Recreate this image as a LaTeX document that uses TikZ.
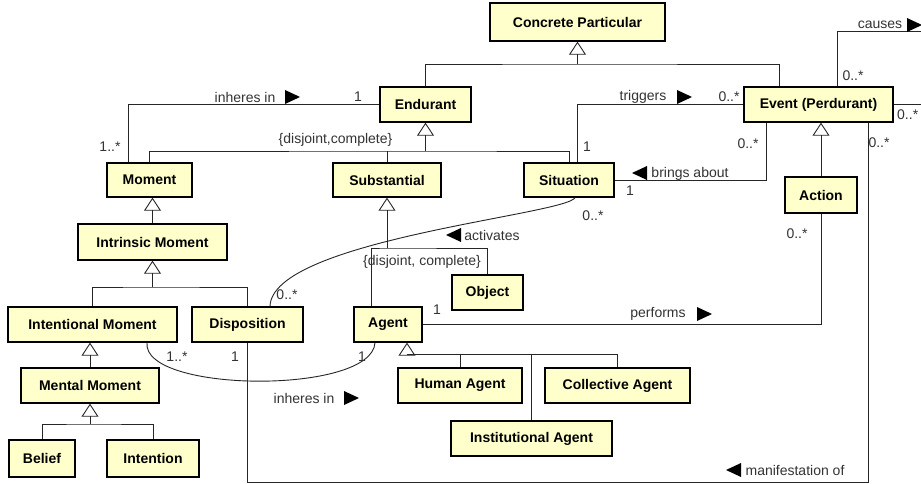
\documentclass[tikz,border=0pt]{standalone}
\usepackage{fontspec}
\setmainfont{Liberation Sans}
\usetikzlibrary{arrows.meta,calc}
\definecolor{boxfill}{RGB}{255,255,204}
\newcommand{\rtri}[3]{\fill[black] (#2,#3-7) -- (#2,#3+7) -- (#2+15,#3) -- cycle coordinate (#1) at (#2,#3);}
\newcommand{\ltri}[3]{\fill[black] (#2+15,#3-7) -- (#2+15,#3+7) -- (#2,#3) -- cycle coordinate (#1) at (#2,#3);}
\tikzset{
  box/.style={draw=black, line width=1.4pt, fill=boxfill, inner sep=0pt,
    font=\bfseries\fontsize{14}{16}\selectfont, text=black},
  lbl/.style={inner sep=0pt, font=\fontsize{14}{16}\selectfont, text=black!80},
  line/.style={draw=black!85, line width=0.9pt},
  gen/.style={line, -{Triangle[open, width=17pt, length=13pt]}}
}
\begin{document}
\begin{tikzpicture}[x=1pt,y=-1pt]
\useasboundingbox[fill=white] (0,0) rectangle (921,484);

% ---------- connectors first (boxes drawn over them) ----------
\coordinate (g1) at (577.5,64);
\coordinate (g2) at (425.5,151);
\coordinate (g4) at (152.5,287);
\coordinate (g6) at (90,424);
\coordinate (g7) at (387,248);
\coordinate (g8) at (407,354);
\coordinate (causesEnd) at (921,31);
\coordinate (rightEnd) at (921,104.5);
\coordinate (mc) at (868,482);

% ---------- boxes ----------
\node[box, minimum width=175pt, minimum height=38pt] (cp) at (577.5,22) {Concrete Particular};
\node[box, minimum width=91pt, minimum height=35pt] (end) at (425.5,104.5) {Endurant};
\node[box, minimum width=149pt, minimum height=35pt] (ev) at (818.5,104.5) {Event (Perdurant)};
\node[box, minimum width=85pt, minimum height=34pt] (mom) at (149.5,180) {Moment};
\node[box, minimum width=108pt, minimum height=34pt] (sub) at (387,180) {Substantial};
\node[box, minimum width=90pt, minimum height=34pt] (sit) at (569,180) {Situation};
\node[box, minimum width=72pt, minimum height=36pt] (act) at (821,195) {Action};
\node[box, minimum width=149pt, minimum height=36pt] (im) at (152.5,242) {Intrinsic Moment};
\node[box, minimum width=71pt, minimum height=35pt] (obj) at (487.5,292.5) {Object};
\node[box, minimum width=169pt, minimum height=35pt] (intm) at (92.5,324.5) {Intentional Moment};
\node[box, minimum width=111pt, minimum height=35pt] (disp) at (247.5,324.5) {Disposition};
\node[box, minimum width=68pt, minimum height=35pt] (ag) at (388,324.5) {Agent};
\node[box, minimum width=138pt, minimum height=35pt] (mm) at (90,385.5) {Mental Moment};
\node[box, minimum width=124pt, minimum height=35pt] (ha) at (460,385.5) {Human Agent};
\node[box, minimum width=145pt, minimum height=35pt] (ca) at (617.5,385.5) {Collective Agent};
\node[box, minimum width=161pt, minimum height=35pt] (ia) at (531.5,438.5) {Institutional Agent};
\node[box, minimum width=66pt, minimum height=37pt] (bel) at (42,458.5) {Belief};
\node[box, minimum width=92pt, minimum height=37pt] (int) at (153,458.5) {Intention};

% ---------- generalizations ----------
\draw[line] (end.north) |- (g1) -| ([xshift=-39.5pt]ev.north);
\draw[gen] (g1) -- (cp.south);

\draw[line] (mom.north) |- (g2) -| (sit.north);
\draw[line] (sub.north) -- (sub.north |- g2);
\draw[gen] (g2) -- (end.south);

\draw[gen] (im.north) -- (im.north |- mom.south);

\draw[line] (intm.north) |- (g4) -| (disp.north);
\draw[gen] (g4) -- (im.south);

\draw[gen] (mm.north) -- (mm.north |- intm.south);

\draw[line] (bel.north) |- (g6) -| (int.north);
\draw[gen] (g6) -- (mm.south);

\draw[line] ([xshift=-17pt]ag.north) |- (g7) -| (obj.north);
\draw[gen] (g7) -- (sub.south);

\draw[line] (g8) -| (ca.north);
\draw[line] (ha.north) -- (ha.north |- g8);
\draw[line] (ia.north) -- (ia.north |- g8);
\draw[gen] (g8) -- (g8 |- ag.south);

\draw[gen] (act.north) -- (act.north |- ev.south);

% ---------- associations ----------
\draw[line] ([xshift=18.5pt]ev.north) |- (causesEnd);
\draw[line] (ev.east) -- (rightEnd);
\draw[line] ([xshift=8pt]sit.north) |- (ev.west);
\draw[line] (end.west) -| ([xshift=-21.5pt]mom.north);
\draw[line] (sit.east) -| ([xshift=-52.5pt]ev.south);
\draw[line] (ag.east) -| (act.south);
\draw[line] (disp.south) |- (mc) -- ([xshift=49.5pt]ev.south);
\draw[line] ([xshift=6pt]sit.south) .. controls (565,215) and (272,240) .. ([xshift=22.5pt]disp.north);
\draw[line] ([xshift=54.5pt]intm.south) .. controls (142,393) and (372,395) .. ([xshift=-13pt]ag.south);

% ---------- labels ----------
\node[lbl] (tcauses) at (880,25) {causes};
\rtri{acauses}{907}{25}
\node[lbl] (mcauses) at (853,76) {0..*};
\node[lbl, anchor=west] (mright) at (897,115) {0..*};

\node[lbl] (ttrig) at (643,97) {triggers};
\rtri{atrig}{677}{97}
\node[lbl] (mtrig1) at (729,97) {0..*};
\node[lbl] (mtrig2) at (587,147) {1};

\node[lbl] (tinh1) at (245,97) {inheres in};
\rtri{ainh1}{285}{97}
\node[lbl] (minh1a) at (358,97) {1};
\node[lbl] (minh1b) at (110,147) {1..*};

\node[lbl] (dc1) at (335.5,140) {\{disjoint,complete\}};

\ltri{abring}{632}{173}
\node[lbl] (tbring) at (690,174) {brings about};
\node[lbl] (mbring1) at (630,191) {1};
\node[lbl] (mbring2) at (748,144) {0..*};

\node[lbl] (mman2) at (879,143) {0..*};

\ltri{aact}{446}{235}
\node[lbl] (tact) at (492,235) {activates};
\node[lbl] (mact1) at (593,216) {0..*};
\node[lbl] (mact2) at (287,295) {0..*};

\node[lbl] (dc2) at (422,262) {\{disjoint, complete\}};

\node[lbl] (mperf1) at (437,310) {1};
\node[lbl] (tperf) at (658,314) {performs};
\rtri{aperf}{697}{314}
\node[lbl] (mperf2) at (797,234) {0..*};

\node[lbl] (minh2a) at (177,357) {1..*};
\node[lbl] (mman1) at (235,357) {1};
\node[lbl] (minh2b) at (362,357) {1};
\node[lbl] (tinh2) at (304,398) {inheres in};
\rtri{ainh2}{344}{398}

\ltri{aman}{726}{470}
\node[lbl] (tman) at (795,470) {manifestation of};
\end{tikzpicture}
\end{document}
